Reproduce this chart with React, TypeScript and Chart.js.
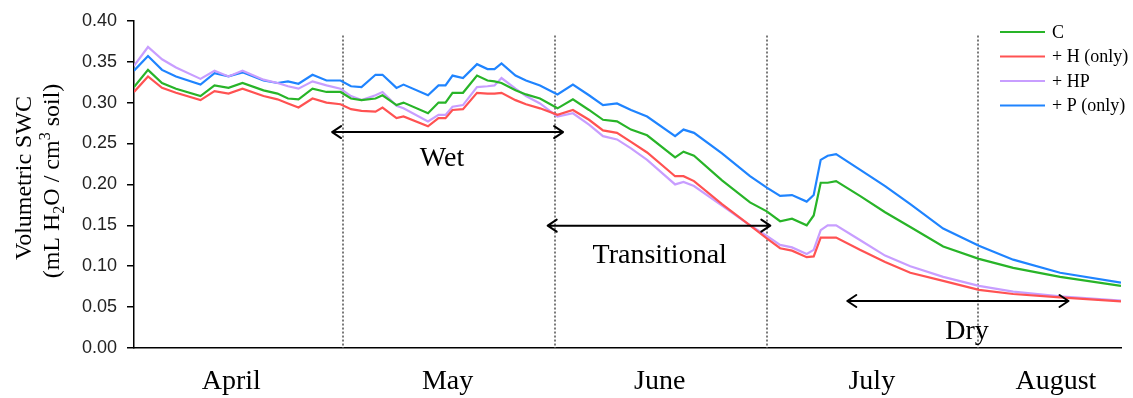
import React, { useEffect, useRef } from "react";
import { Chart, registerables } from "chart.js";

Chart.register(...registerables);

// ---- data (x = day since 1 April, y = volumetric SWC) ----
const days = [
  0, 2, 4, 6, 9.5, 11.5, 13.5, 15.5, 18.5, 20.5, 22, 23.5, 25.5, 27.5, 29.5,
  31, 32.5, 34.5, 35.5, 37.5, 38.5, 42, 43.5, 44.5, 45.5, 47, 49, 50.5, 51.5,
  52.5, 54.5, 56, 58, 60.5, 62.7, 65, 67, 69, 71, 73.3, 77.3, 78.5, 80, 84, 88,
  90.4, 92.3, 94, 96.1, 97.1, 98.1, 99.1, 100.3, 103.7, 107.3, 110.9, 115.6,
  120.7, 125.6, 132.3, 141,
];

const seriesC = [
  0.319, 0.34, 0.324, 0.317, 0.308, 0.321, 0.318, 0.324, 0.315, 0.311, 0.305, 0.304, 0.317, 0.313, 0.313,
  0.305, 0.303, 0.305, 0.309, 0.297, 0.3, 0.287, 0.3, 0.3, 0.312, 0.312, 0.333, 0.327, 0.326,
  0.324, 0.315, 0.31, 0.305, 0.293, 0.304, 0.291, 0.279, 0.277, 0.267, 0.26, 0.233, 0.24, 0.235, 0.205, 0.178,
  0.167, 0.155, 0.158, 0.15, 0.162, 0.202, 0.202, 0.204, 0.186, 0.166, 0.148, 0.124,
  0.109, 0.098, 0.087, 0.076,
];

const seriesH = [
  0.313, 0.332, 0.318, 0.312, 0.303, 0.314, 0.311, 0.317, 0.308, 0.304, 0.299, 0.294, 0.305, 0.3, 0.298,
  0.292, 0.29, 0.289, 0.294, 0.281, 0.283, 0.271, 0.281, 0.281, 0.291, 0.292, 0.312, 0.311, 0.311,
  0.312, 0.303, 0.298, 0.293, 0.285, 0.291, 0.279, 0.266, 0.263, 0.252, 0.239, 0.21, 0.21, 0.204, 0.176, 0.15,
  0.134, 0.122, 0.119, 0.111, 0.112, 0.135, 0.135, 0.135, 0.12, 0.105, 0.092, 0.082,
  0.071, 0.066, 0.062, 0.057,
];

const seriesHP = [
  0.345, 0.368, 0.353, 0.343, 0.329, 0.339, 0.332, 0.339, 0.328, 0.324, 0.32, 0.317, 0.326, 0.321, 0.317,
  0.308, 0.303, 0.309, 0.313, 0.296, 0.293, 0.277, 0.285, 0.285, 0.295, 0.297, 0.319, 0.32, 0.321,
  0.33, 0.317, 0.308, 0.299, 0.283, 0.287, 0.273, 0.259, 0.255, 0.244, 0.23, 0.2, 0.203, 0.198, 0.174, 0.15,
  0.137, 0.126, 0.123, 0.115, 0.12, 0.144, 0.15, 0.15, 0.132, 0.113, 0.1, 0.087,
  0.076, 0.069, 0.063, 0.058,
];

const seriesP = [
  0.339, 0.357, 0.34, 0.332, 0.322, 0.336, 0.332, 0.337, 0.327, 0.324, 0.326, 0.323, 0.334, 0.327, 0.327,
  0.32, 0.319, 0.334, 0.334, 0.318, 0.322, 0.309, 0.321, 0.321, 0.333, 0.33, 0.347, 0.341, 0.341,
  0.348, 0.333, 0.327, 0.321, 0.31, 0.322, 0.309, 0.297, 0.299, 0.291, 0.283, 0.259, 0.267, 0.263, 0.238, 0.21,
  0.196, 0.186, 0.187, 0.179, 0.187, 0.23, 0.235, 0.237, 0.218, 0.198, 0.176, 0.146,
  0.125, 0.108, 0.092, 0.08,
];

const seriesLabels = ["C", "+ H (only)", "+ HP", "+ P (only)"];
const seriesValues = [seriesC, seriesH, seriesHP, seriesP];
const seriesColors = ["#28b428", "#ff5252", "#c89eff", "#1f84ff"];

const monthNames = ["April", "May", "June", "July", "August"];
const monthCenters = [13.9, 44.8, 75.1, 105.4, 131.7];
const monthBoundaries = [29.9, 60.1, 90.4, 120.6];
const boundaryTop = 0.382;

const phaseNames = ["Wet", "Transitional", "Dry"];
const phaseFrom = [28.3, 59.1, 101.9];
const phaseTo = [61.3, 90.9, 133.5];
const phaseLevel = [0.264, 0.1496, 0.0575];
const phaseLabelX = [44, 75.1, 119];
const phaseLabelY = [0.2225, 0.104, 0.0105];

const SERIF = "'Liberation Serif', 'Times New Roman', serif";
const SANS = "'Liberation Sans', Arial, sans-serif";

function drawArrow(ctx: CanvasRenderingContext2D, x1: number, x2: number, y: number) {
  const hl = 9;
  const hw = 6;
  ctx.beginPath();
  ctx.moveTo(x1, y);
  ctx.lineTo(x2, y);
  ctx.moveTo(x1 + hl, y - hw);
  ctx.lineTo(x1, y);
  ctx.lineTo(x1 + hl, y + hw);
  ctx.moveTo(x2 - hl, y - hw);
  ctx.lineTo(x2, y);
  ctx.lineTo(x2 - hl, y + hw);
  ctx.stroke();
}

const overlayPlugin = {
  id: "overlay",
  beforeDatasetsDraw(chart: any) {
    const { ctx, scales } = chart;
    const xs = scales.x;
    const ys = scales.y;
    ctx.save();
    ctx.strokeStyle = "#7a7a7a";
    ctx.lineWidth = 2;
    ctx.setLineDash([2, 2]);
    monthBoundaries.forEach((d) => {
      const px = Math.round(xs.getPixelForValue(d));
      ctx.beginPath();
      ctx.moveTo(px, ys.getPixelForValue(boundaryTop));
      ctx.lineTo(px, ys.getPixelForValue(0));
      ctx.stroke();
    });
    ctx.restore();
  },
  afterDatasetsDraw(chart: any) {
    const { ctx, scales } = chart;
    const xs = scales.x;
    const ys = scales.y;
    ctx.save();
    ctx.strokeStyle = "#000";
    ctx.lineWidth = 2;
    ctx.lineCap = "round";
    ctx.lineJoin = "round";
    phaseNames.forEach((_, i) => {
      drawArrow(
        ctx,
        xs.getPixelForValue(phaseFrom[i]),
        xs.getPixelForValue(phaseTo[i]),
        ys.getPixelForValue(phaseLevel[i])
      );
    });
    ctx.fillStyle = "#000";
    ctx.font = `28px ${SERIF}`;
    ctx.textAlign = "center";
    ctx.textBaseline = "alphabetic";
    phaseNames.forEach((name, i) => {
      ctx.fillText(name, xs.getPixelForValue(phaseLabelX[i]), ys.getPixelForValue(phaseLabelY[i]));
    });
    ctx.restore();
  },
  afterDraw(chart: any) {
    const { ctx } = chart;
    ctx.save();
    // legend
    const lx = 1000;
    const ly0 = 32;
    const lstep = 24.5;
    chart.data.datasets.forEach((ds: any, i: number) => {
      const y = ly0 + i * lstep;
      ctx.strokeStyle = ds.borderColor;
      ctx.lineWidth = 2;
      ctx.beginPath();
      ctx.moveTo(lx, y);
      ctx.lineTo(lx + 45, y);
      ctx.stroke();
      ctx.fillStyle = "#000";
      ctx.font = `18px ${SERIF}`;
      ctx.textAlign = "left";
      ctx.textBaseline = "middle";
      ctx.fillText(ds.label, lx + 52, y + 1);
    });
    ctx.restore();

    // y-axis title (rotated, with sub/superscripts)
    ctx.save();
    ctx.fillStyle = "#000";
    ctx.textBaseline = "alphabetic";
    ctx.rotate(-Math.PI / 2);
    const big = `24px ${SERIF}`;
    const small = `16px ${SERIF}`;
    ctx.font = big;
    ctx.textAlign = "center";
    ctx.fillText("Volumetric SWC", -178, 31);
    const runs: [string, string, number][] = [
      ["(mL H", big, 0],
      ["2", small, 5],
      ["O / cm", big, 0],
      ["3", small, -9],
      [" soil)", big, 0],
    ];
    let total = 0;
    runs.forEach(([t, f]) => {
      ctx.font = f;
      total += ctx.measureText(t).width;
    });
    ctx.textAlign = "left";
    let cx = -181 - total / 2;
    runs.forEach(([t, f, off]) => {
      ctx.font = f;
      ctx.fillText(t, cx, 59 + off);
      cx += ctx.measureText(t).width;
    });
    ctx.restore();
  },
};

export default function App() {
  const canvasRef = useRef<HTMLCanvasElement | null>(null);

  useEffect(() => {
    const canvas = canvasRef.current;
    if (!canvas) return;
    const chart = new Chart(canvas, {
      type: "line",
      data: {
        datasets: seriesLabels.map((label, i) => ({
          label,
          data: days.map((d, j) => ({ x: d, y: seriesValues[i][j] })),
          borderColor: seriesColors[i],
          backgroundColor: seriesColors[i],
          borderWidth: 2.2,
          pointRadius: 0,
          tension: 0,
          fill: false,
        })),
      },
      options: {
        responsive: false,
        animation: false,
        devicePixelRatio: 1,
        layout: { padding: { top: 16, right: 12, bottom: 0, left: 0 } },
        plugins: {
          legend: { display: false },
          tooltip: { enabled: false },
          title: { display: false },
        },
        scales: {
          x: {
            type: "linear",
            min: 0,
            max: 141,
            grid: { display: false, drawTicks: false },
            border: { display: true, color: "#000", width: 1.5 },
            afterBuildTicks: (scale: any) => {
              scale.ticks = monthCenters.map((v) => ({ value: v }));
            },
            afterFit: (scale: any) => {
              scale.height = 50;
            },
            ticks: {
              autoSkip: false,
              maxRotation: 0,
              minRotation: 0,
              padding: 17,
              color: "#000",
              font: { family: SERIF, size: 28 },
              callback: (_v: any, i: number) => monthNames[i],
            },
          },
          y: {
            min: 0,
            max: 0.4,
            afterFit: (scale: any) => {
              scale.width = 134;
            },
            grid: {
              display: true,
              drawOnChartArea: false,
              drawTicks: true,
              tickLength: 7,
              color: "#000",
              lineWidth: 1.5,
            },
            border: { display: true, color: "#000", width: 1.5 },
            ticks: {
              stepSize: 0.05,
              padding: 10,
              color: "#222",
              font: { family: SANS, size: 18 },
              callback: (v: any) => Number(v).toFixed(2),
            },
          },
        },
      },
      plugins: [overlayPlugin],
    } as any);
    return () => chart.destroy();
  }, []);

  return (
    <div style={{ position: "absolute", left: 0, top: 0, width: 1133, height: 398, background: "#fff" }}>
      <canvas ref={canvasRef} width={1133} height={398} />
    </div>
  );
}
